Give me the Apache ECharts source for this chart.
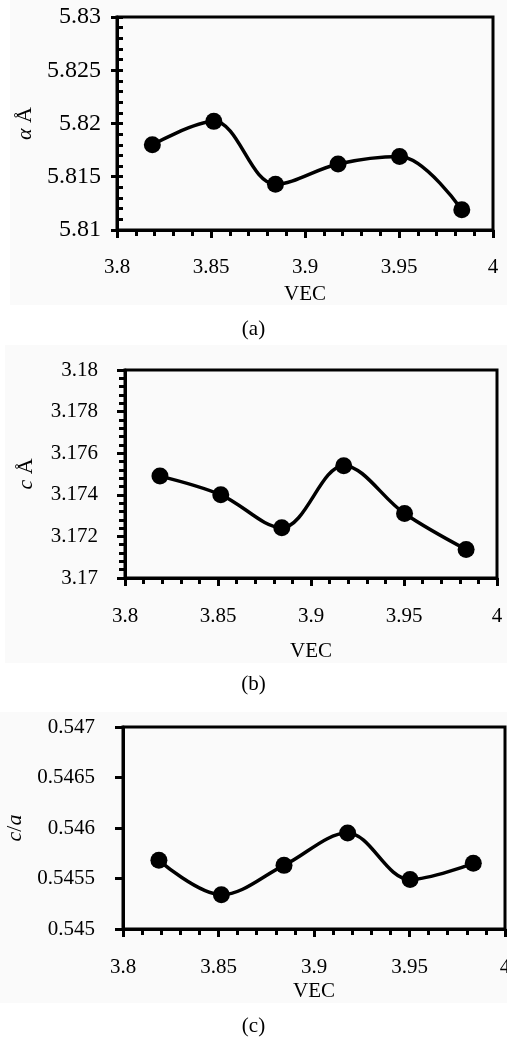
<!DOCTYPE html>
<html>
<head>
<meta charset="utf-8">
<script src="https://cdn.jsdelivr.net/npm/echarts@6/dist/echarts.min.js"></script>
<style>
  html, body { margin: 0; padding: 0; background: #fff; }
  #chart { width: 507px; height: 1040px; }
</style>
</head>
<body>
<div id="chart"></div>
<script>
// VEC values (shared x for all three panels)
const vec = [3.8188, 3.8515, 3.8843, 3.9176, 3.9503, 3.9834];
// lattice parameter a (Å)
const aVals = [5.8180, 5.8202, 5.8143, 5.8162, 5.8169, 5.8119];
// lattice parameter c (Å)
const cVals = [3.1749, 3.1740, 3.17242, 3.1754, 3.1731, 3.17137];
// c/a ratio
const caVals = [0.54568, 0.54534, 0.54563, 0.54595, 0.54549, 0.54565];

// axis ranges [min, max, interval]
const xRange = [3.8, 4, 0.05];
const aRange = [5.81, 5.83, 0.005];
const cRange = [3.17, 3.18, 0.002];
const caRange = [0.545, 0.547, 0.0005];

const captions = ["(a)", "(b)", "(c)"];

const font = "Liberation Serif";
const black = "#000";

const chart = echarts.init(document.getElementById("chart"));

function xAxisFor(gridIndex, labelMargin, nameGap) {
  return {
    type: "value",
    gridIndex,
    min: xRange[0],
    max: xRange[1],
    interval: xRange[2],
    name: "VEC",
    nameLocation: "middle",
    nameGap,
    nameTextStyle: { fontFamily: font, fontSize: 21, color: black },
    axisLine: { lineStyle: { color: black, width: 3 } },
    axisTick: { show: true, length: 8, lineStyle: { color: black, width: 3 } },
    minorTick: { show: true, splitNumber: 5, length: 6, lineStyle: { color: black, width: 3 } },
    splitLine: { show: false },
    axisLabel: { fontFamily: font, fontSize: 21, color: black, margin: labelMargin, showMaxLabel: true }
  };
}

function yName(sym, rest) {
  return rest ? "{i|" + sym + "} " + rest : "{i|" + sym + "}";
}

const nameStyle = {
  fontFamily: font,
  fontSize: 22,
  color: black,
  rich: { i: { fontFamily: font, fontSize: 22, fontStyle: "italic", color: black } }
};

const gridBase = { show: true, borderColor: black, borderWidth: 3, backgroundColor: "transparent", outerBoundsMode: "none", containLabel: false };

const option = {
  backgroundColor: "#fff",
  animation: false,
  graphic: [
    { type: "rect", shape: { x: 10, y: 0, width: 497, height: 305 }, style: { fill: "#fafafa" }, z: -10 },
    { type: "rect", shape: { x: 5, y: 345, width: 502, height: 318 }, style: { fill: "#fafafa" }, z: -10 },
    { type: "rect", shape: { x: 0, y: 712, width: 507, height: 291 }, style: { fill: "#fafafa" }, z: -10 }
  ],
  title: [
    { text: captions[0], left: "center", top: 319, textStyle: { fontFamily: font, fontSize: 21, fontWeight: "normal", color: black }, padding: 0 },
    { text: captions[1], left: "center", top: 674, textStyle: { fontFamily: font, fontSize: 21, fontWeight: "normal", color: black }, padding: 0 },
    { text: captions[2], left: "center", top: 1016, textStyle: { fontFamily: font, fontSize: 21, fontWeight: "normal", color: black }, padding: 0 }
  ],
  grid: [
    { ...gridBase, left: 117, right: 14, top: 17, height: 213 },
    { ...gridBase, left: 125, right: 10, top: 370, height: 208 },
    { ...gridBase, left: 123, right: 2, top: 727, height: 202 }
  ],
  xAxis: [
    xAxisFor(0, 27, 54),
    xAxisFor(1, 28, 63),
    xAxisFor(2, 28, 52)
  ],
  yAxis: [
    // (a) labelled axis, major ticks outward
    {
      type: "value", gridIndex: 0,
      min: aRange[0], max: aRange[1], interval: aRange[2],
      name: yName("α", "Å"), nameLocation: "middle", nameGap: 80, nameTextStyle: nameStyle,
      axisLine: { lineStyle: { color: black, width: 3 } },
      axisTick: { show: true, length: 6, lineStyle: { color: black, width: 3 } },
      splitLine: { show: false },
      axisLabel: { fontFamily: font, fontSize: 24, color: black, margin: 16 }
    },
    // (a) overlay axis: major + minor ticks inward (Excel "cross" style)
    {
      type: "value", gridIndex: 0, position: "left",
      min: aRange[0], max: aRange[1], interval: aRange[2],
      axisLine: { show: false },
      axisTick: { show: true, inside: true, length: 6, lineStyle: { color: black, width: 3 } },
      minorTick: { show: true, splitNumber: 5, length: 6, lineStyle: { color: black, width: 3 } },
      splitLine: { show: false },
      axisLabel: { show: false }
    },
    // (b)
    {
      type: "value", gridIndex: 1,
      min: cRange[0], max: cRange[1], interval: cRange[2],
      name: yName("c", "Å"), nameLocation: "middle", nameGap: 88, nameTextStyle: nameStyle,
      axisLine: { lineStyle: { color: black, width: 3 } },
      axisTick: { show: true, length: 8, lineStyle: { color: black, width: 3 } },
      minorTick: { show: true, splitNumber: 5, length: 6, lineStyle: { color: black, width: 3 } },
      splitLine: { show: false },
      axisLabel: { fontFamily: font, fontSize: 21, color: black, margin: 27 }
    },
    // (c)
    {
      type: "value", gridIndex: 2,
      min: caRange[0], max: caRange[1], interval: caRange[2],
      name: "{i|c}/{i|a}", nameLocation: "middle", nameGap: 86, nameTextStyle: nameStyle,
      axisLine: { lineStyle: { color: black, width: 3 } },
      axisTick: { show: true, length: 8, lineStyle: { color: black, width: 3 } },
      splitLine: { show: false },
      axisLabel: { fontFamily: font, fontSize: 21, color: black, margin: 28 }
    }
  ],
  series: [
    { data: vec.map((x, i) => [x, aVals[i]]), xAxisIndex: 0, yAxisIndex: 0 },
    { data: vec.map((x, i) => [x, cVals[i]]), xAxisIndex: 1, yAxisIndex: 2 },
    { data: vec.map((x, i) => [x, caVals[i]]), xAxisIndex: 2, yAxisIndex: 3 }
  ].map((s) => ({
    type: "line",
    smooth: 0.35,
    symbol: "circle",
    symbolSize: 17,
    lineStyle: { color: black, width: 3.5 },
    itemStyle: { color: black },
    ...s
  }))
};

chart.setOption(option);
</script>
</body>
</html>
